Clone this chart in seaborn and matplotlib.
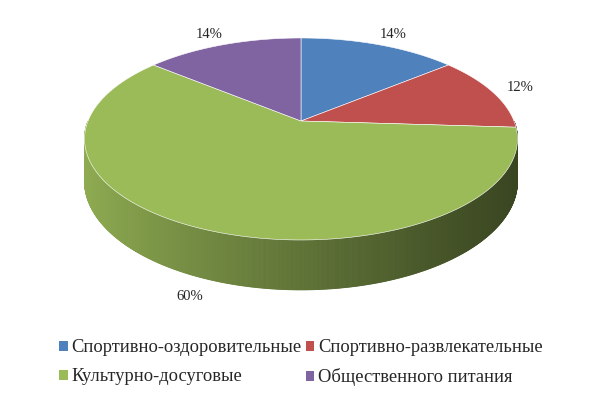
import numpy as np
import matplotlib
matplotlib.use("Agg")
import matplotlib.pyplot as plt
from matplotlib.patches import Polygon, Patch
import seaborn as sns

categories = ["Спортивно-оздоровительные", "Спортивно-развлекательные",
              "Культурно-досуговые", "Общественного питания"]
shares = [14, 12, 60, 14]
labels = ["14%", "12%", "60%", "14%"]
colors = ["#4f81bd", "#c0504d", "#9bbb59", "#8064a2"]

sns.set_theme(style="white")
plt.rcParams["font.family"] = ["Liberation Serif", "DejaVu Serif"]

W, H = 603, 393
fig = plt.figure(figsize=(W / 100, H / 100), dpi=100)
ax = fig.add_axes([0, 0, 1, 1])
ax.set_xlim(0, W)
ax.set_ylim(H, 0)
ax.axis("off")

# projection parameters (layout)
cx, cy = 301, 121
rx, ry = 213, 97.8
k = 0.178
depth = 41


def proj(theta, r=1.0, h=0.0):
    u = r * np.sin(theta)
    v = r * np.cos(theta)
    s = 1.0 / (1.0 + k * v)
    return cx + rx * u * s, cy + (-ry * v + h) * s


fr = np.array(shares, dtype=float) / np.sum(shares)
edges = np.concatenate([[0], np.cumsum(fr)]) * 2 * np.pi

# side wall (front half, theta 90..270 deg)
x_left, x_right = 84, 518
f_left, f_right = 0.92, 0.37
th = np.linspace(np.pi / 2, 3 * np.pi / 2, 721)
for a, b in zip(th[:-1], th[1:]):
    m = 0.5 * (a + b)
    idx = np.searchsorted(edges, m) - 1
    base = np.array(matplotlib.colors.to_rgb(colors[idx]))
    xa, ya = proj(a)
    xb, yb = proj(b)
    xa2, ya2 = proj(a, h=depth)
    xb2, yb2 = proj(b, h=depth)
    xm = 0.5 * (xa + xb)
    t = np.clip((xm - x_left) / (x_right - x_left), 0, 1) ** 0.85
    f = f_left + (f_right - f_left) * t
    c = np.clip(base * f, 0, 1)
    ax.add_patch(Polygon([(xa, ya), (xb, yb), (xb2, yb2), (xa2, ya2)],
                         closed=True, facecolor=c, edgecolor=c, lw=0.6))

# top faces
for i in range(len(shares)):
    t = np.linspace(edges[i], edges[i + 1], 200)
    pts = [proj(0, r=0.0)] + [proj(tt) for tt in t]
    ax.add_patch(Polygon(pts, closed=True, facecolor=colors[i],
                         edgecolor="white", lw=0.4, joinstyle="round"))

# labels
for i in range(len(shares)):
    m = 0.5 * (edges[i] + edges[i + 1])
    h = depth if np.cos(m) < 0 else 0.0
    x, y = proj(m, r=1.15, h=h)
    if np.cos(m) < 0:
        y -= 3
    ax.text(x + 4 * np.sign(np.sin(m)) * (np.cos(m) > 0.5), y - 1, labels[i],
            ha="center", va="center", fontsize=10.5, color="#262626")

order = [0, 2, 1, 3]
handles = [Patch(facecolor=colors[i], edgecolor="none", label=categories[i]) for i in order]
fig.legend(handles=handles, loc="center", bbox_to_anchor=(0.499, 0.077), ncol=2,
           frameon=False, fontsize=13.3, handlelength=0.45, handleheight=0.45,
           handletextpad=0.2, columnspacing=0.25, labelspacing=0.65,
           labelcolor="#262626")

fig.savefig("out.png", dpi=100)
